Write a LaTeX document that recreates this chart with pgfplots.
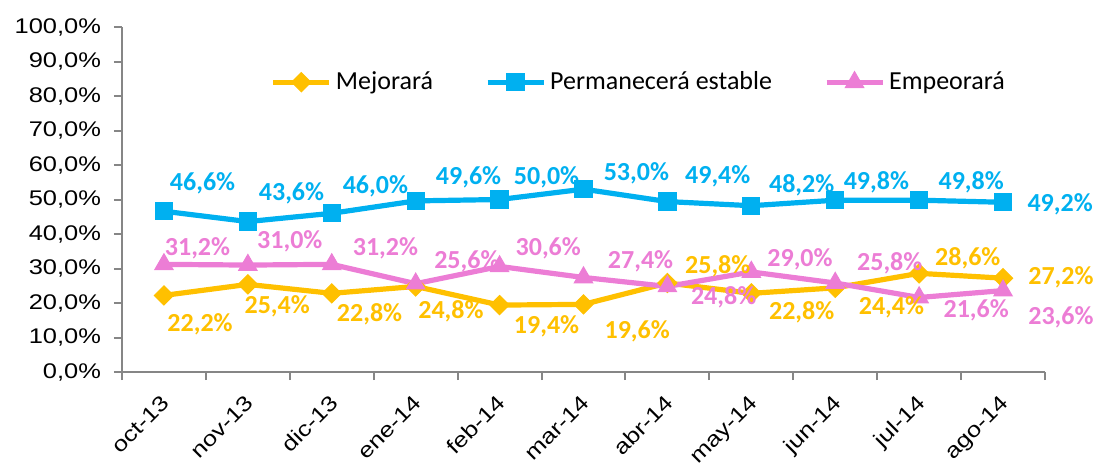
\documentclass[border=0pt]{standalone}
\usepackage{pgfplots}
\pgfplotsset{compat=1.18}
\usetikzlibrary{calc}
\usepackage{fontspec}
\setmainfont{Liberation Sans}
\newfontfamily\tickfont{Liberation Sans}[FakeStretch=1.2]
\newfontfamily\calib{Carlito}
\definecolor{cy}{HTML}{FFC000}
\definecolor{cb}{HTML}{00B0F0}
\definecolor{cp}{HTML}{EC7DD5}
\definecolor{ax}{HTML}{868686}

\pgfplotstableread{
x y
0 22.2
1 25.4
2 22.8
3 24.8
4 19.4
5 19.6
6 25.8
7 22.8
8 24.4
9 28.6
10 27.2
}\mej
\pgfplotstableread{
x y
0 46.6
1 43.6
2 46.0
3 49.6
4 50.0
5 53.0
6 49.4
7 48.2
8 49.8
9 49.8
10 49.2
}\per
\pgfplotstableread{
x y
0 31.2
1 31.0
2 31.2
3 25.6
4 30.6
5 27.4
6 24.8
7 29.0
8 25.8
9 21.6
10 23.6
}\emp
% label positions
\pgfplotstableread{
x y label
0.43 13.9 22,2\%
1.35 19.1 25,4\%
2.45 16.8 22,8\%
3.42 17.7 24,8\%
4.56 13.3 19,4\%
5.64 11.9 19,6\%
6.60 30.7 25,8\%
7.60 17.4 22,8\%
8.67 18.8 24,4\%
9.58 33.0 28,6\%
10.69 27.5 27,2\%
}\mejl
\pgfplotstableread{
x y label
0.46 54.8 46,6\%
1.52 51.9 43,6\%
2.52 53.9 46,0\%
3.63 56.5 49,6\%
4.56 56.5 50,0\%
5.63 57.7 53,0\%
6.60 56.8 49,4\%
7.60 54.2 48,2\%
8.49 55.1 49,8\%
9.62 55.1 49,8\%
10.68 48.7 49,2\%
}\perl
\pgfplotstableread{
x y label
0.40 35.9 31,2\%
1.50 38.0 31,0\%
2.64 35.9 31,2\%
3.61 32.2 25,6\%
4.58 35.9 30,6\%
5.68 32.2 27,4\%
6.67 21.7 24,8\%
7.58 32.8 29,0\%
8.65 31.6 25,8\%
9.68 18.0 21,6\%
10.69 15.9 23,6\%
}\empl

\begin{document}
\begin{tikzpicture}
\begin{axis}[
  scale only axis,
  width=461.5pt, height=172.5pt,
  xmin=-0.5, xmax=10.5,
  ymin=0, ymax=100,
  clip=false,
  axis x line=bottom, axis y line=left,
  axis line style={draw=ax, line width=1pt, -},
  xtick={0,...,10},
  xticklabels={oct-13,nov-13,dic-13,ene-14,feb-14,mar-14,abr-14,may-14,jun-14,jul-14,ago-14},
  minor xtick={-0.5,0.5,...,10.5},
  major x tick style={draw=none},
  minor x tick style={draw=ax, line width=1pt},
  ytick={0,10,...,100},
  yticklabels={{0,0\%},{10,0\%},{20,0\%},{30,0\%},{40,0\%},{50,0\%},{60,0\%},{70,0\%},{80,0\%},{90,0\%},{100,0\%}},
  y tick style={draw=ax, line width=1pt},
  tick align=outside,
  major tick length=4pt, minor tick length=4pt,
  /pgf/number format/assume math mode=true,
  yticklabel style={font=\tickfont\fontsize{10.6}{12}\selectfont, xshift=-3pt},
  xticklabel style={font=\tickfont\fontsize{10.6}{12}\selectfont, rotate=45, anchor=north east, xshift=-2.7pt, yshift=-0.2pt},
  legend style={at={(0.561,0.84)}, anchor=center, draw=none, fill=none,
    font=\calib\fontsize{13}{15}\selectfont, legend columns=3,
    /tikz/every even column/.append style={column sep=24pt}},
  legend image code/.code={\draw[#1, mark repeat=2, mark phase=2] plot coordinates {(0pt,0pt) (14pt,0pt) (28pt,0pt)};},
  every node near coord/.append style={anchor=center, font=\calib\bfseries\fontsize{13}{15}\selectfont},
]
\addplot[cy, line width=2.6pt, mark=square*, mark size=3.4pt, mark options={solid, rotate=45, line width=0.5pt}] table[x=x,y=y] {\mej};
\addlegendentry{Mejorará}
\addplot[cb, line width=2.6pt, mark=square*, mark size=4.3pt, mark options={solid, line width=0.5pt}] table[x=x,y=y] {\per};
\addlegendentry{Permanecerá estable}
\addplot[cp, line width=2.6pt, mark=triangle*, mark size=5.3pt, mark options={solid, line width=0.5pt}] table[x=x,y=y] {\emp};
\addlegendentry{Empeorará}
\addplot[forget plot, draw=none, mark=none, nodes near coords, point meta=explicit symbolic, every node near coord/.append style={text=cy}] table[x=x,y=y,meta=label] {\mejl};
\addplot[forget plot, draw=none, mark=none, nodes near coords, point meta=explicit symbolic, every node near coord/.append style={text=cb}] table[x=x,y=y,meta=label] {\perl};
\addplot[forget plot, draw=none, mark=none, nodes near coords, point meta=explicit symbolic, every node near coord/.append style={text=cp}] table[x=x,y=y,meta=label] {\empl};
\end{axis}
\pgfresetboundingbox
\path ($(current axis.south west)+(-61pt,-45pt)$) rectangle ($(current axis.north east)+(26.5pt,13.5pt)$);
\end{tikzpicture}
\end{document}
